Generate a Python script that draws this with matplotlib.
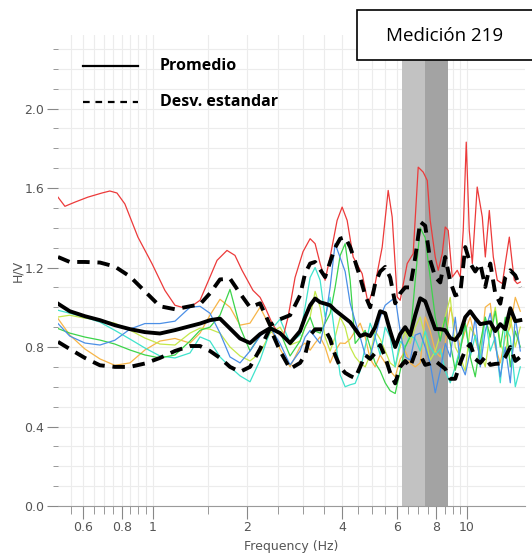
import matplotlib
matplotlib.use('Agg')
import matplotlib.pyplot as plt
from matplotlib.lines import Line2D
from matplotlib.patches import Rectangle

# ---------------- data ----------------
freq = [0.50, 0.545, 0.609, 0.680, 0.758, 0.847, 0.945, 1.055, 1.178, 1.315,
        1.415, 1.522, 1.638, 1.763, 1.897, 2.041, 2.197, 2.364, 2.544, 2.737,
        2.945, 3.055, 3.170, 3.288, 3.411, 3.538, 3.670, 3.807, 3.950, 4.097,
        4.250, 4.410, 4.574, 4.745, 4.921, 5.105, 5.296, 5.494, 5.698, 5.912,
        6.132, 6.361, 6.598, 6.846, 7.101, 7.366, 7.641, 7.927, 8.222, 8.529,
        8.848, 9.178, 9.521, 9.876, 10.245, 10.627, 11.025, 11.436, 11.863, 12.306,
        12.766, 13.243, 13.737, 14.250, 14.782]

mean = [1.018, 0.98, 0.955, 0.935, 0.91, 0.89, 0.875, 0.868, 0.885, 0.905,
        0.918, 0.935, 0.943, 0.893, 0.843, 0.82, 0.865, 0.895, 0.87, 0.82,
        0.88, 0.95, 1.01, 1.044, 1.025, 1.018, 1.01, 0.985, 0.965, 0.945,
        0.925, 0.89, 0.855, 0.865, 0.855, 0.90, 0.98, 0.97, 0.88, 0.80,
        0.865, 0.90, 0.86, 0.96, 1.045, 1.03, 0.96, 0.89, 0.89, 0.885,
        0.845, 0.835, 0.87, 0.95, 0.98, 0.945, 0.915, 0.92, 0.925, 0.88,
        0.915, 0.89, 0.995, 0.93, 0.935]

upper = [1.253, 1.228, 1.228, 1.225, 1.205, 1.155, 1.08, 1.005, 0.99, 1.005,
         1.015, 1.07, 1.14, 1.144, 1.07, 1.0, 1.02, 0.91, 0.94, 0.96,
         1.06, 1.17, 1.22, 1.228, 1.19, 1.152, 1.228, 1.30, 1.345, 1.353,
         1.303, 1.23, 1.15, 1.06, 1.0, 1.119, 1.18, 1.203, 1.15, 1.02,
         1.07, 1.10, 1.10, 1.25, 1.43, 1.41, 1.236, 1.152, 1.125, 1.253,
         1.13, 1.06, 1.069, 1.303, 1.22, 1.18, 1.22, 1.102, 1.22, 1.069,
         1.018, 1.15, 1.186, 1.16, 1.10]

lower = [0.826, 0.79, 0.745, 0.708, 0.70, 0.70, 0.717, 0.745, 0.78, 0.805,
         0.805, 0.78, 0.745, 0.70, 0.675, 0.70, 0.79, 0.895, 0.78, 0.69,
         0.72, 0.76, 0.86, 0.889, 0.889, 0.889, 0.84, 0.76, 0.70, 0.67,
         0.655, 0.643, 0.70, 0.76, 0.74, 0.77, 0.81, 0.75, 0.67, 0.617,
         0.70, 0.73, 0.70, 0.77, 0.76, 0.71, 0.717, 0.73, 0.71, 0.69,
         0.64, 0.64, 0.72, 0.784, 0.815, 0.74, 0.72, 0.75, 0.71, 0.715,
         0.717, 0.75, 0.80, 0.73, 0.75]

blue = [0.918, 0.855, 0.82, 0.81, 0.834, 0.89, 0.918, 0.918, 0.93, 1.0,
        1.005, 0.97, 0.87, 0.75, 0.72, 0.78, 0.855, 0.9, 0.818, 0.71,
        0.78, 0.85, 0.884, 0.85, 0.818, 0.93, 1.1, 1.32, 1.25, 1.18,
        1.02, 0.93, 0.85, 0.76, 0.75, 0.85, 0.95, 1.01, 1.03, 1.05,
        0.88, 0.75, 0.734, 0.86, 0.87, 0.80, 0.717, 0.57, 0.68, 0.818,
        0.75, 0.95, 0.72, 0.66, 0.78, 0.95, 0.70, 0.88, 0.97, 0.82,
        0.65, 0.80, 0.62, 0.95, 0.78]

cyan = [0.985, 0.97, 0.95, 0.925, 0.884, 0.84, 0.795, 0.755, 0.745, 0.77,
        0.851, 0.83, 0.75, 0.70, 0.655, 0.625, 0.734, 0.88, 0.94, 0.82,
        0.86, 1.0, 1.15, 1.2, 1.136, 0.951, 1.05, 0.85, 0.66, 0.60,
        0.61, 0.617, 0.68, 0.80, 0.92, 0.85, 0.76, 0.90, 0.85, 0.70,
        0.83, 0.80, 0.86, 0.84, 0.78, 0.88, 0.80, 0.76, 0.79, 0.68,
        0.62, 0.70, 0.80, 0.92, 0.75, 0.86, 0.74, 0.95, 0.78, 0.85,
        0.62, 0.90, 0.85, 0.60, 0.70]

green = [0.893, 0.87, 0.85, 0.835, 0.815, 0.785, 0.76, 0.745, 0.76, 0.83,
         0.884, 0.9, 0.96, 1.09, 0.90, 0.78, 0.86, 0.90, 0.875, 0.755,
         0.83, 0.90, 0.95, 0.88, 0.87, 0.92, 0.968, 1.1, 1.26, 1.32,
         1.136, 0.818, 0.85, 0.884, 0.80, 0.72, 0.68, 0.62, 0.58, 0.566,
         0.68, 0.80, 0.851, 1.136, 1.40, 1.35, 1.15, 0.95, 0.83, 0.95,
         0.82, 0.683, 0.78, 0.92, 0.75, 0.65, 0.82, 0.95, 0.85, 0.98,
         0.80, 0.95, 0.70, 0.88, 0.80]

yellowgreen = [0.951, 0.96, 0.945, 0.935, 0.92, 0.885, 0.845, 0.815, 0.81, 0.87,
               0.895, 0.89, 0.87, 0.80, 0.755, 0.73, 0.77, 0.87, 0.90, 0.81,
               0.83, 0.90, 0.951, 1.08, 1.0, 0.85, 0.78, 0.85, 0.95, 0.90,
               0.80, 0.75, 0.72, 0.70, 0.76, 0.88, 0.84, 0.78, 0.72, 0.70,
               0.80, 0.88, 0.818, 0.90, 0.951, 0.85, 0.734, 0.78, 0.86, 0.951,
               1.05, 0.80, 0.75, 0.68, 0.90, 0.85, 0.78, 0.70, 0.88, 1.0,
               0.82, 0.75, 0.95, 0.80, 0.90]

orange = [0.943, 0.86, 0.79, 0.74, 0.708, 0.72, 0.785, 0.83, 0.843, 0.82,
          0.87, 0.96, 1.04, 1.0, 0.91, 0.92, 1.0, 0.90, 0.79, 0.70,
          0.80, 0.82, 0.784, 0.82, 0.851, 0.80, 0.72, 0.78, 0.82, 0.818,
          0.84, 0.88, 0.92, 0.85, 0.74, 0.70, 0.76, 0.72, 0.68, 0.65,
          0.74, 0.78, 0.72, 0.70, 0.72, 0.951, 0.88, 0.78, 0.75, 0.82,
          1.0, 0.90, 0.80, 0.88, 0.95, 0.84, 0.75, 1.0, 1.02, 0.80,
          0.72, 0.85, 0.90, 1.05, 0.98]

red_freq = [0.500, 0.526, 0.566, 0.622, 0.690, 0.731, 0.770, 0.816, 0.898, 0.995,
            1.094, 1.178, 1.240, 1.315, 1.415, 1.522, 1.603, 1.724, 1.828, 1.925,
            2.086, 2.197, 2.279, 2.399, 2.506, 2.600, 2.697, 2.839, 3.010, 3.170,
            3.288, 3.411, 3.538, 3.670, 3.863, 4.008, 4.158, 4.345, 4.641, 4.850,
            5.105, 5.375, 5.616, 5.783, 5.998, 6.132, 6.455, 6.745, 6.998, 7.259,
            7.476, 7.641, 7.927, 8.102, 8.345, 8.529, 8.719, 8.979, 9.314, 9.521,
            9.732, 9.949, 10.17, 10.40, 10.78, 11.19, 11.44, 11.78, 12.13, 12.49,
            12.96, 13.24, 13.64, 13.94, 14.15, 14.46, 14.78]
red = [1.554, 1.508, 1.529, 1.554, 1.575, 1.585, 1.575, 1.52, 1.353, 1.22,
       1.085, 1.01, 1.0, 1.0, 1.035, 1.152, 1.236, 1.286, 1.261, 1.186,
       1.085, 1.05, 1.0, 0.92, 0.87, 0.85, 0.95, 1.15, 1.28, 1.345,
       1.32, 1.22, 1.136, 1.253, 1.437, 1.504, 1.437, 1.253, 1.169, 1.018,
       1.119, 1.303, 1.588, 1.454, 1.052, 1.035, 1.22, 1.27, 1.705, 1.68,
       1.638, 1.437, 1.253, 1.186, 1.27, 1.404, 1.387, 1.152, 1.186, 1.152,
       1.387, 1.831, 1.387, 1.22, 1.605, 1.454, 1.253, 1.487, 1.253, 1.136,
       1.119, 1.22, 1.353, 1.22, 1.136, 1.119, 1.127]

band_light = (6.2, 7.35)
band_dark = (7.35, 8.7)

x_major = [0.6, 0.8, 1, 2, 4, 6, 8, 10]
x_major_labels = ['0.6', '0.8', '1', '2', '4', '6', '8', '10']
x_minor = [0.55, 0.65, 0.7, 0.75, 0.85, 0.9, 0.95, 1.5, 2.5, 3, 3.5,
           4.5, 5, 5.5, 6.5, 7, 7.5, 8.5, 9, 9.5]
y_major = [0.0, 0.4, 0.8, 1.2, 1.6, 2.0]
y_major_labels = ['0.0', '0.4', '0.8', '1.2', '1.6', '2.0']
y_minor = [0.1, 0.2, 0.3, 0.5, 0.6, 0.7, 0.9, 1.0, 1.1, 1.3, 1.4, 1.5,
           1.7, 1.8, 1.9, 2.1, 2.2, 2.3]

title_text = 'Medición 219'
legend_labels = ['Promedio', 'Desv. estandar']

# ---------------- figure ----------------
W, H = 532, 557
fig = plt.figure(figsize=(W / 100, H / 100), dpi=100)
ax = fig.add_axes([58 / W, 1 - 506 / H, (525 - 58) / W, (506 - 35) / H])
ax.set_xscale('log')
ax.set_xlim(0.5, 15.3)
ax.set_ylim(0, 2.37)

ax.axvspan(*band_light, color='#c2c2c2', lw=0, zorder=1)
ax.axvspan(*band_dark, color='#a3a3a3', lw=0, zorder=1)

thin = 0.9
ax.plot(freq, orange, color='#f7b548', lw=thin, zorder=2)
ax.plot(freq, yellowgreen, color='#c4e84a', lw=thin, zorder=2)
ax.plot(freq, cyan, color='#3fe3cc', lw=thin, zorder=2)
ax.plot(freq, green, color='#3cd44a', lw=thin, zorder=2)
ax.plot(freq, blue, color='#4b8fe6', lw=thin, zorder=2)
ax.plot(red_freq, red, color='#ec3a3a', lw=thin, zorder=2)

ax.plot(freq, upper, color='black', lw=2.8, ls=(0, (3.2, 2.0)), zorder=3)
ax.plot(freq, lower, color='black', lw=2.8, ls=(0, (3.2, 2.0)), zorder=3)
ax.plot(freq, mean, color='black', lw=2.8, zorder=4)

ax.set_xticks(x_major)
ax.set_xticklabels(x_major_labels)
ax.set_xticks(x_minor, minor=True)
ax.set_xticklabels([], minor=True)
ax.set_yticks(y_major)
ax.set_yticklabels(y_major_labels)
ax.set_yticks(y_minor, minor=True)

ax.grid(which='both', color='#ececec', lw=0.8, zorder=0)
ax.set_axisbelow(True)

for s in ['top', 'right', 'left']:
    ax.spines[s].set_visible(False)
ax.spines['bottom'].set_color('#9a9a9a')
ax.spines['bottom'].set_linewidth(0.8)

ax.tick_params(axis='x', which='major', length=9, color='#888888', labelcolor='#555555',
               labelsize=9, pad=2)
ax.tick_params(axis='x', which='minor', length=5.5, color='#888888')
ax.tick_params(axis='y', which='major', length=8, color='#888888', labelcolor='#555555',
               labelsize=9, pad=2)
ax.tick_params(axis='y', which='minor', length=3.5, color='#888888')

ax.set_xlabel('Frequency (Hz)', fontsize=9, color='#555555', labelpad=4)
ax.set_ylabel('H/V', fontsize=9, color='#555555', labelpad=0)

# legend (manual)
fig.add_artist(Line2D([83 / W, 138 / W], [1 - 66 / H, 1 - 66 / H], color='black', lw=1.6))
fig.add_artist(Line2D([83 / W, 138 / W], [1 - 102 / H, 1 - 102 / H], color='black', lw=1.6,
                      ls=(0, (3.0, 2.6))))
fig.text(160 / W, 1 - 66 / H, legend_labels[0], fontsize=11.5, fontweight='bold',
         family='Open Sans', va='center', ha='left')
fig.text(160 / W, 1 - 102 / H, legend_labels[1], fontsize=11.5, fontweight='bold',
         family='Open Sans', va='center', ha='left')

# title box
fig.add_artist(Rectangle((357 / W, 1 - 60 / H), (W - 357 + 5) / W, 50 / H,
                         transform=fig.transFigure, facecolor='white',
                         edgecolor='black', lw=1.2, zorder=10))
fig.text(445 / W, 1 - 36 / H, title_text, fontsize=13.5, family='Open Sans',
         ha='center', va='center', zorder=11)

fig.savefig('out.png', dpi=100)
